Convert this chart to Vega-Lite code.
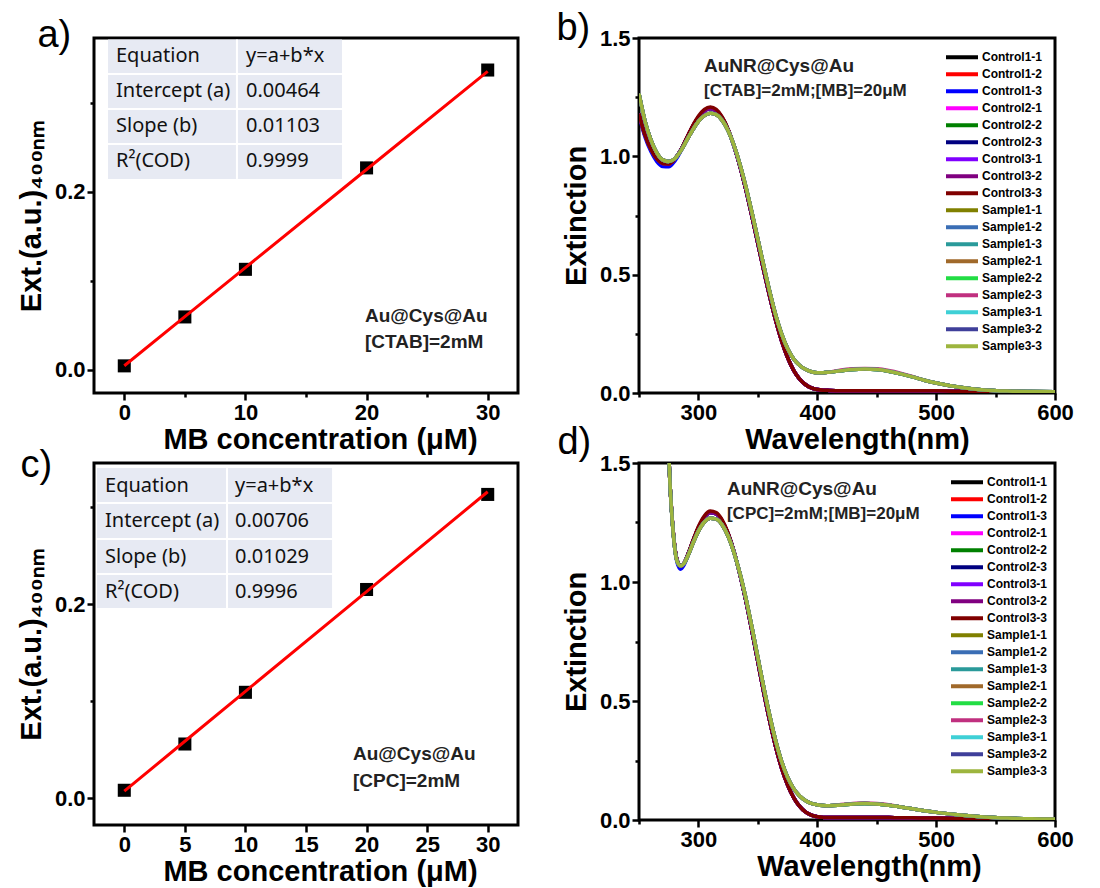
{
"$schema": "https://vega.github.io/schema/vega-lite/v6.json",
"background": "white",
"padding": {"left": 15, "top": 8, "right": 5, "bottom": 5},
"columns": 2,
"bounds": "flush",
"align": "each",
"spacing": {"row": 70, "column": 121},
"resolve": {"scale": {"color": "independent"}, "legend": {"color": "independent"}},
"config": {
  "view": {"stroke": "black", "strokeWidth": 3},
  "axis": {"domain": false, "grid": false, "tickColor": "black", "tickWidth": 2.5, "tickSize": 7, "labelPadding": 2, "labelFlush": false, "labelOverlap": false, "labelFont": "Liberation Sans", "labelFontSize": 22, "labelFontWeight": "bold", "labelColor": "black", "titleFont": "Liberation Sans", "titleFontSize": 29, "titleFontWeight": "bold", "titleColor": "black"},
  "axisY": {"titlePadding": 8},
  "axisX": {"titlePadding": 2},
  "title": {"anchor": "start", "frame": "bounds", "font": "Liberation Sans", "fontSize": 38, "fontWeight": "normal", "color": "black"}
},
"datasets": {
  "lin_a": [
    {"conc": 0, "ext": 0.0045, "fit": 0.00464},
    {"conc": 5, "ext": 0.0595, "fit": 0.05979},
    {"conc": 10, "ext": 0.113, "fit": 0.11494},
    {"conc": 20, "ext": 0.227, "fit": 0.22524},
    {"conc": 30, "ext": 0.337, "fit": 0.33554}
  ],
  "lin_c": [
    {"conc": 0, "ext": 0.008, "fit": 0.00706},
    {"conc": 5, "ext": 0.0557, "fit": 0.05851},
    {"conc": 10, "ext": 0.109, "fit": 0.10996},
    {"conc": 20, "ext": 0.215, "fit": 0.21286},
    {"conc": 30, "ext": 0.313, "fit": 0.31576}
  ],
  "spec_b": [
{"w":250,"C11":1.18,"C12":1.18,"C13":1.172,"C21":1.18,"C22":1.18,"C23":1.18,"C31":1.18,"C32":1.18,"C33":1.18,"S11":1.265,"S12":1.265,"S13":1.265,"S21":1.265,"S22":1.265,"S23":1.265,"S31":1.265,"S32":1.265,"S33":1.265},
{"w":255,"C11":1.09,"C12":1.09,"C13":1.082,"C21":1.09,"C22":1.09,"C23":1.09,"C31":1.09,"C32":1.09,"C33":1.09,"S11":1.15,"S12":1.15,"S13":1.15,"S21":1.15,"S22":1.15,"S23":1.15,"S31":1.15,"S32":1.15,"S33":1.15},
{"w":260,"C11":1.03,"C12":1.03,"C13":1.02,"C21":1.03,"C22":1.03,"C23":1.03,"C31":1.03,"C32":1.03,"C33":1.03,"S11":1.07,"S12":1.07,"S13":1.07,"S21":1.07,"S22":1.07,"S23":1.07,"S31":1.07,"S32":1.07,"S33":1.07},
{"w":265,"C11":0.99,"C12":0.99,"C13":0.978,"C21":0.99,"C22":0.99,"C23":0.99,"C31":0.99,"C32":0.99,"C33":0.99,"S11":1.015,"S12":1.015,"S13":1.015,"S21":1.015,"S22":1.015,"S23":1.015,"S31":1.015,"S32":1.015,"S33":1.015},
{"w":270,"C11":0.97,"C12":0.97,"C13":0.957,"C21":0.97,"C22":0.97,"C23":0.97,"C31":0.97,"C32":0.97,"C33":0.97,"S11":0.985,"S12":0.985,"S13":0.985,"S21":0.985,"S22":0.985,"S23":0.985,"S31":0.985,"S32":0.985,"S33":0.985},
{"w":275,"C11":0.968,"C12":0.968,"C13":0.956,"C21":0.968,"C22":0.968,"C23":0.968,"C31":0.968,"C32":0.968,"C33":0.968,"S11":0.978,"S12":0.978,"S13":0.978,"S21":0.978,"S22":0.978,"S23":0.978,"S31":0.978,"S32":0.978,"S33":0.978},
{"w":280,"C11":0.988,"C12":0.988,"C13":0.979,"C21":0.988,"C22":0.988,"C23":0.988,"C31":0.988,"C32":0.988,"C33":0.988,"S11":0.99,"S12":0.99,"S13":0.99,"S21":0.99,"S22":0.99,"S23":0.99,"S31":0.99,"S32":0.99,"S33":0.99},
{"w":285,"C11":1.025,"C12":1.025,"C13":1.02,"C21":1.025,"C22":1.025,"C23":1.025,"C31":1.025,"C32":1.025,"C33":1.025,"S11":1.022,"S12":1.022,"S13":1.022,"S21":1.022,"S22":1.022,"S23":1.022,"S31":1.022,"S32":1.022,"S33":1.022},
{"w":290,"C11":1.075,"C12":1.075,"C13":1.075,"C21":1.075,"C22":1.075,"C23":1.075,"C31":1.075,"C32":1.075,"C33":1.077,"S11":1.066,"S12":1.066,"S13":1.066,"S21":1.066,"S22":1.066,"S23":1.066,"S31":1.066,"S32":1.066,"S33":1.066},
{"w":295,"C11":1.125,"C12":1.125,"C13":1.125,"C21":1.125,"C22":1.125,"C23":1.125,"C31":1.125,"C32":1.125,"C33":1.128,"S11":1.11,"S12":1.11,"S13":1.11,"S21":1.11,"S22":1.11,"S23":1.11,"S31":1.11,"S32":1.11,"S33":1.11},
{"w":300,"C11":1.165,"C12":1.165,"C13":1.165,"C21":1.165,"C22":1.165,"C23":1.165,"C31":1.165,"C32":1.165,"C33":1.17,"S11":1.148,"S12":1.148,"S13":1.148,"S21":1.148,"S22":1.148,"S23":1.148,"S31":1.148,"S32":1.148,"S33":1.148},
{"w":305,"C11":1.192,"C12":1.192,"C13":1.192,"C21":1.192,"C22":1.192,"C23":1.192,"C31":1.192,"C32":1.192,"C33":1.198,"S11":1.172,"S12":1.172,"S13":1.172,"S21":1.172,"S22":1.172,"S23":1.172,"S31":1.172,"S32":1.172,"S33":1.172},
{"w":310,"C11":1.202,"C12":1.202,"C13":1.202,"C21":1.202,"C22":1.202,"C23":1.202,"C31":1.202,"C32":1.202,"C33":1.208,"S11":1.182,"S12":1.182,"S13":1.182,"S21":1.182,"S22":1.182,"S23":1.182,"S31":1.182,"S32":1.182,"S33":1.182},
{"w":315,"C11":1.192,"C12":1.192,"C13":1.192,"C21":1.192,"C22":1.192,"C23":1.192,"C31":1.192,"C32":1.192,"C33":1.198,"S11":1.176,"S12":1.176,"S13":1.176,"S21":1.176,"S22":1.176,"S23":1.176,"S31":1.176,"S32":1.176,"S33":1.176},
{"w":320,"C11":1.162,"C12":1.162,"C13":1.162,"C21":1.162,"C22":1.162,"C23":1.162,"C31":1.162,"C32":1.162,"C33":1.167,"S11":1.152,"S12":1.152,"S13":1.152,"S21":1.152,"S22":1.152,"S23":1.152,"S31":1.152,"S32":1.152,"S33":1.152},
{"w":325,"C11":1.112,"C12":1.112,"C13":1.112,"C21":1.112,"C22":1.112,"C23":1.112,"C31":1.112,"C32":1.112,"C33":1.115,"S11":1.108,"S12":1.108,"S13":1.108,"S21":1.108,"S22":1.108,"S23":1.108,"S31":1.108,"S32":1.108,"S33":1.108},
{"w":330,"C11":1.042,"C12":1.042,"C13":1.042,"C21":1.042,"C22":1.042,"C23":1.042,"C31":1.042,"C32":1.042,"C33":1.044,"S11":1.045,"S12":1.045,"S13":1.045,"S21":1.045,"S22":1.045,"S23":1.045,"S31":1.045,"S32":1.045,"S33":1.045},
{"w":335,"C11":0.957,"C12":0.957,"C13":0.957,"C21":0.957,"C22":0.957,"C23":0.957,"C31":0.957,"C32":0.957,"C33":0.957,"S11":0.965,"S12":0.965,"S13":0.965,"S21":0.965,"S22":0.965,"S23":0.965,"S31":0.965,"S32":0.965,"S33":0.965},
{"w":340,"C11":0.857,"C12":0.857,"C13":0.857,"C21":0.857,"C22":0.857,"C23":0.857,"C31":0.857,"C32":0.857,"C33":0.857,"S11":0.87,"S12":0.87,"S13":0.87,"S21":0.87,"S22":0.87,"S23":0.87,"S31":0.87,"S32":0.87,"S33":0.87},
{"w":345,"C11":0.747,"C12":0.747,"C13":0.747,"C21":0.747,"C22":0.747,"C23":0.747,"C31":0.747,"C32":0.747,"C33":0.747,"S11":0.763,"S12":0.763,"S13":0.763,"S21":0.763,"S22":0.763,"S23":0.763,"S31":0.763,"S32":0.763,"S33":0.763},
{"w":350,"C11":0.632,"C12":0.632,"C13":0.632,"C21":0.632,"C22":0.632,"C23":0.632,"C31":0.632,"C32":0.632,"C33":0.632,"S11":0.65,"S12":0.65,"S13":0.65,"S21":0.65,"S22":0.65,"S23":0.65,"S31":0.65,"S32":0.65,"S33":0.65},
{"w":355,"C11":0.517,"C12":0.517,"C13":0.517,"C21":0.517,"C22":0.517,"C23":0.517,"C31":0.517,"C32":0.517,"C33":0.517,"S11":0.537,"S12":0.537,"S13":0.537,"S21":0.537,"S22":0.537,"S23":0.537,"S31":0.537,"S32":0.537,"S33":0.537},
{"w":360,"C11":0.407,"C12":0.407,"C13":0.407,"C21":0.407,"C22":0.407,"C23":0.407,"C31":0.407,"C32":0.407,"C33":0.407,"S11":0.428,"S12":0.428,"S13":0.428,"S21":0.428,"S22":0.428,"S23":0.428,"S31":0.428,"S32":0.428,"S33":0.428},
{"w":365,"C11":0.307,"C12":0.307,"C13":0.307,"C21":0.307,"C22":0.307,"C23":0.307,"C31":0.307,"C32":0.307,"C33":0.307,"S11":0.33,"S12":0.33,"S13":0.33,"S21":0.33,"S22":0.33,"S23":0.33,"S31":0.33,"S32":0.33,"S33":0.33},
{"w":370,"C11":0.22,"C12":0.22,"C13":0.22,"C21":0.22,"C22":0.22,"C23":0.22,"C31":0.22,"C32":0.22,"C33":0.22,"S11":0.25,"S12":0.25,"S13":0.25,"S21":0.25,"S22":0.25,"S23":0.25,"S31":0.25,"S32":0.25,"S33":0.25},
{"w":375,"C11":0.15,"C12":0.15,"C13":0.15,"C21":0.15,"C22":0.15,"C23":0.15,"C31":0.15,"C32":0.15,"C33":0.15,"S11":0.188,"S12":0.188,"S13":0.188,"S21":0.188,"S22":0.188,"S23":0.188,"S31":0.188,"S32":0.188,"S33":0.188},
{"w":380,"C11":0.097,"C12":0.097,"C13":0.097,"C21":0.097,"C22":0.097,"C23":0.097,"C31":0.097,"C32":0.097,"C33":0.097,"S11":0.145,"S12":0.145,"S13":0.145,"S21":0.145,"S22":0.145,"S23":0.145,"S31":0.145,"S32":0.145,"S33":0.145},
{"w":385,"C11":0.06,"C12":0.06,"C13":0.06,"C21":0.06,"C22":0.06,"C23":0.06,"C31":0.06,"C32":0.06,"C33":0.06,"S11":0.117,"S12":0.117,"S13":0.117,"S21":0.117,"S22":0.117,"S23":0.117,"S31":0.117,"S32":0.117,"S33":0.117},
{"w":390,"C11":0.036,"C12":0.036,"C13":0.036,"C21":0.036,"C22":0.036,"C23":0.036,"C31":0.036,"C32":0.036,"C33":0.036,"S11":0.1,"S12":0.1,"S13":0.1,"S21":0.1,"S22":0.1,"S23":0.1,"S31":0.1,"S32":0.1,"S33":0.1},
{"w":395,"C11":0.022,"C12":0.022,"C13":0.022,"C21":0.022,"C22":0.022,"C23":0.022,"C31":0.022,"C32":0.022,"C33":0.022,"S11":0.09,"S12":0.09,"S13":0.09,"S21":0.09,"S22":0.09,"S23":0.09,"S31":0.09,"S32":0.09,"S33":0.09},
{"w":400,"C11":0.015,"C12":0.015,"C13":0.015,"C21":0.015,"C22":0.015,"C23":0.015,"C31":0.015,"C32":0.015,"C33":0.015,"S11":0.086,"S12":0.086,"S13":0.086,"S21":0.086,"S22":0.086,"S23":0.086,"S31":0.086,"S32":0.086,"S33":0.086},
{"w":405,"C11":0.012,"C12":0.012,"C13":0.012,"C21":0.012,"C22":0.012,"C23":0.012,"C31":0.012,"C32":0.012,"C33":0.012,"S11":0.086,"S12":0.086,"S13":0.086,"S21":0.086,"S22":0.086,"S23":0.086,"S31":0.086,"S32":0.086,"S33":0.086},
{"w":410,"C11":0.011,"C12":0.011,"C13":0.011,"C21":0.011,"C22":0.011,"C23":0.011,"C31":0.011,"C32":0.011,"C33":0.011,"S11":0.088,"S12":0.088,"S13":0.088,"S21":0.088,"S22":0.088,"S23":0.088,"S31":0.088,"S32":0.088,"S33":0.088},
{"w":420,"C11":0.01,"C12":0.01,"C13":0.01,"C21":0.01,"C22":0.01,"C23":0.01,"C31":0.01,"C32":0.01,"C33":0.01,"S11":0.094,"S12":0.094,"S13":0.094,"S21":0.094,"S22":0.094,"S23":0.097,"S31":0.094,"S32":0.094,"S33":0.094},
{"w":430,"C11":0.01,"C12":0.01,"C13":0.01,"C21":0.01,"C22":0.01,"C23":0.01,"C31":0.01,"C32":0.01,"C33":0.01,"S11":0.099,"S12":0.099,"S13":0.099,"S21":0.099,"S22":0.099,"S23":0.102,"S31":0.099,"S32":0.099,"S33":0.099},
{"w":440,"C11":0.01,"C12":0.01,"C13":0.01,"C21":0.01,"C22":0.01,"C23":0.01,"C31":0.01,"C32":0.01,"C33":0.01,"S11":0.101,"S12":0.101,"S13":0.101,"S21":0.101,"S22":0.101,"S23":0.104,"S31":0.101,"S32":0.101,"S33":0.101},
{"w":450,"C11":0.01,"C12":0.01,"C13":0.01,"C21":0.01,"C22":0.01,"C23":0.01,"C31":0.01,"C32":0.01,"C33":0.01,"S11":0.099,"S12":0.099,"S13":0.099,"S21":0.099,"S22":0.099,"S23":0.102,"S31":0.099,"S32":0.099,"S33":0.099},
{"w":460,"C11":0.01,"C12":0.01,"C13":0.01,"C21":0.01,"C22":0.01,"C23":0.01,"C31":0.01,"C32":0.01,"C33":0.01,"S11":0.092,"S12":0.092,"S13":0.092,"S21":0.092,"S22":0.092,"S23":0.095,"S31":0.092,"S32":0.092,"S33":0.092},
{"w":470,"C11":0.01,"C12":0.01,"C13":0.01,"C21":0.01,"C22":0.01,"C23":0.01,"C31":0.01,"C32":0.01,"C33":0.01,"S11":0.081,"S12":0.081,"S13":0.081,"S21":0.081,"S22":0.081,"S23":0.084,"S31":0.081,"S32":0.081,"S33":0.081},
{"w":480,"C11":0.01,"C12":0.01,"C13":0.01,"C21":0.01,"C22":0.01,"C23":0.01,"C31":0.01,"C32":0.01,"C33":0.01,"S11":0.068,"S12":0.068,"S13":0.068,"S21":0.068,"S22":0.068,"S23":0.07,"S31":0.068,"S32":0.068,"S33":0.068},
{"w":490,"C11":0.009,"C12":0.009,"C13":0.009,"C21":0.009,"C22":0.009,"C23":0.009,"C31":0.009,"C32":0.009,"C33":0.009,"S11":0.054,"S12":0.054,"S13":0.054,"S21":0.054,"S22":0.054,"S23":0.054,"S31":0.054,"S32":0.054,"S33":0.054},
{"w":500,"C11":0.009,"C12":0.009,"C13":0.009,"C21":0.009,"C22":0.009,"C23":0.009,"C31":0.009,"C32":0.009,"C33":0.009,"S11":0.042,"S12":0.042,"S13":0.042,"S21":0.042,"S22":0.042,"S23":0.042,"S31":0.042,"S32":0.042,"S33":0.042},
{"w":520,"C11":0.007,"C12":0.007,"C13":0.007,"C21":0.007,"C22":0.007,"C23":0.007,"C31":0.007,"C32":0.007,"C33":0.007,"S11":0.024,"S12":0.024,"S13":0.024,"S21":0.024,"S22":0.024,"S23":0.024,"S31":0.024,"S32":0.024,"S33":0.024},
{"w":540,"C11":0.005,"C12":0.005,"C13":0.005,"C21":0.005,"C22":0.005,"C23":0.005,"C31":0.005,"C32":0.005,"C33":0.005,"S11":0.013,"S12":0.013,"S13":0.013,"S21":0.013,"S22":0.013,"S23":0.013,"S31":0.013,"S32":0.013,"S33":0.013},
{"w":560,"C11":0.004,"C12":0.004,"C13":0.004,"C21":0.004,"C22":0.004,"C23":0.004,"C31":0.004,"C32":0.004,"C33":0.004,"S11":0.008,"S12":0.008,"S13":0.008,"S21":0.008,"S22":0.008,"S23":0.008,"S31":0.008,"S32":0.008,"S33":0.008},
{"w":580,"C11":0.003,"C12":0.003,"C13":0.003,"C21":0.003,"C22":0.003,"C23":0.003,"C31":0.003,"C32":0.003,"C33":0.003,"S11":0.006,"S12":0.006,"S13":0.006,"S21":0.006,"S22":0.006,"S23":0.006,"S31":0.006,"S32":0.006,"S33":0.006},
{"w":600,"C11":0.003,"C12":0.003,"C13":0.003,"C21":0.003,"C22":0.003,"C23":0.003,"C31":0.003,"C32":0.003,"C33":0.003,"S11":0.005,"S12":0.005,"S13":0.005,"S21":0.005,"S22":0.005,"S23":0.005,"S31":0.005,"S32":0.005,"S33":0.005}
  ],
  "spec_d": [
{"w":273,"C11":1.8,"C12":1.8,"C13":1.8,"C21":1.8,"C22":1.8,"C23":1.8,"C31":1.8,"C32":1.8,"C33":1.8,"S11":1.8,"S12":1.8,"S13":1.8,"S21":1.8,"S22":1.8,"S23":1.8,"S31":1.8,"S32":1.8,"S33":1.8},
{"w":276,"C11":1.42,"C12":1.42,"C13":1.42,"C21":1.42,"C22":1.42,"C23":1.42,"C31":1.42,"C32":1.42,"C33":1.42,"S11":1.42,"S12":1.42,"S13":1.42,"S21":1.42,"S22":1.42,"S23":1.42,"S31":1.42,"S32":1.42,"S33":1.42},
{"w":279,"C11":1.2,"C12":1.2,"C13":1.195,"C21":1.2,"C22":1.2,"C23":1.2,"C31":1.2,"C32":1.2,"C33":1.2,"S11":1.195,"S12":1.195,"S13":1.195,"S21":1.195,"S22":1.195,"S23":1.195,"S31":1.195,"S32":1.195,"S33":1.195},
{"w":282,"C11":1.092,"C12":1.092,"C13":1.082,"C21":1.092,"C22":1.092,"C23":1.092,"C31":1.092,"C32":1.092,"C33":1.092,"S11":1.088,"S12":1.088,"S13":1.088,"S21":1.088,"S22":1.088,"S23":1.088,"S31":1.088,"S32":1.088,"S33":1.088},
{"w":285,"C11":1.066,"C12":1.066,"C13":1.054,"C21":1.066,"C22":1.066,"C23":1.066,"C31":1.066,"C32":1.066,"C33":1.066,"S11":1.068,"S12":1.068,"S13":1.068,"S21":1.068,"S22":1.068,"S23":1.068,"S31":1.068,"S32":1.068,"S33":1.068},
{"w":288,"C11":1.08,"C12":1.08,"C13":1.072,"C21":1.08,"C22":1.08,"C23":1.08,"C31":1.08,"C32":1.08,"C33":1.08,"S11":1.079,"S12":1.079,"S13":1.079,"S21":1.079,"S22":1.079,"S23":1.079,"S31":1.079,"S32":1.079,"S33":1.079},
{"w":292,"C11":1.126,"C12":1.126,"C13":1.122,"C21":1.126,"C22":1.126,"C23":1.126,"C31":1.126,"C32":1.126,"C33":1.128,"S11":1.12,"S12":1.12,"S13":1.12,"S21":1.12,"S22":1.12,"S23":1.12,"S31":1.12,"S32":1.12,"S33":1.12},
{"w":296,"C11":1.18,"C12":1.18,"C13":1.18,"C21":1.18,"C22":1.18,"C23":1.18,"C31":1.18,"C32":1.18,"C33":1.183,"S11":1.17,"S12":1.17,"S13":1.17,"S21":1.17,"S22":1.17,"S23":1.17,"S31":1.17,"S32":1.17,"S33":1.17},
{"w":300,"C11":1.228,"C12":1.228,"C13":1.228,"C21":1.228,"C22":1.228,"C23":1.228,"C31":1.228,"C32":1.228,"C33":1.233,"S11":1.214,"S12":1.214,"S13":1.214,"S21":1.214,"S22":1.214,"S23":1.214,"S31":1.214,"S32":1.214,"S33":1.214},
{"w":305,"C11":1.272,"C12":1.272,"C13":1.272,"C21":1.272,"C22":1.272,"C23":1.272,"C31":1.272,"C32":1.272,"C33":1.278,"S11":1.252,"S12":1.252,"S13":1.252,"S21":1.252,"S22":1.252,"S23":1.252,"S31":1.252,"S32":1.252,"S33":1.252},
{"w":310,"C11":1.292,"C12":1.292,"C13":1.292,"C21":1.292,"C22":1.292,"C23":1.292,"C31":1.292,"C32":1.292,"C33":1.298,"S11":1.268,"S12":1.268,"S13":1.268,"S21":1.268,"S22":1.268,"S23":1.268,"S31":1.268,"S32":1.268,"S33":1.268},
{"w":315,"C11":1.286,"C12":1.286,"C13":1.286,"C21":1.286,"C22":1.286,"C23":1.286,"C31":1.286,"C32":1.286,"C33":1.292,"S11":1.264,"S12":1.264,"S13":1.264,"S21":1.264,"S22":1.264,"S23":1.264,"S31":1.264,"S32":1.264,"S33":1.264},
{"w":320,"C11":1.256,"C12":1.256,"C13":1.256,"C21":1.256,"C22":1.256,"C23":1.256,"C31":1.256,"C32":1.256,"C33":1.261,"S11":1.24,"S12":1.24,"S13":1.24,"S21":1.24,"S22":1.24,"S23":1.24,"S31":1.24,"S32":1.24,"S33":1.24},
{"w":325,"C11":1.202,"C12":1.202,"C13":1.202,"C21":1.202,"C22":1.202,"C23":1.202,"C31":1.202,"C32":1.202,"C33":1.205,"S11":1.192,"S12":1.192,"S13":1.192,"S21":1.192,"S22":1.192,"S23":1.192,"S31":1.192,"S32":1.192,"S33":1.192},
{"w":330,"C11":1.126,"C12":1.126,"C13":1.126,"C21":1.126,"C22":1.126,"C23":1.126,"C31":1.126,"C32":1.126,"C33":1.126,"S11":1.122,"S12":1.122,"S13":1.122,"S21":1.122,"S22":1.122,"S23":1.122,"S31":1.122,"S32":1.122,"S33":1.122},
{"w":335,"C11":1.03,"C12":1.03,"C13":1.03,"C21":1.03,"C22":1.03,"C23":1.03,"C31":1.03,"C32":1.03,"C33":1.03,"S11":1.035,"S12":1.035,"S13":1.035,"S21":1.035,"S22":1.035,"S23":1.035,"S31":1.035,"S32":1.035,"S33":1.035},
{"w":340,"C11":0.92,"C12":0.92,"C13":0.92,"C21":0.92,"C22":0.92,"C23":0.92,"C31":0.92,"C32":0.92,"C33":0.92,"S11":0.93,"S12":0.93,"S13":0.93,"S21":0.93,"S22":0.93,"S23":0.93,"S31":0.93,"S32":0.93,"S33":0.93},
{"w":345,"C11":0.795,"C12":0.795,"C13":0.795,"C21":0.795,"C22":0.795,"C23":0.795,"C31":0.795,"C32":0.795,"C33":0.795,"S11":0.81,"S12":0.81,"S13":0.81,"S21":0.81,"S22":0.81,"S23":0.81,"S31":0.81,"S32":0.81,"S33":0.81},
{"w":350,"C11":0.665,"C12":0.665,"C13":0.665,"C21":0.665,"C22":0.665,"C23":0.665,"C31":0.665,"C32":0.665,"C33":0.665,"S11":0.683,"S12":0.683,"S13":0.683,"S21":0.683,"S22":0.683,"S23":0.683,"S31":0.683,"S32":0.683,"S33":0.683},
{"w":355,"C11":0.535,"C12":0.535,"C13":0.535,"C21":0.535,"C22":0.535,"C23":0.535,"C31":0.535,"C32":0.535,"C33":0.535,"S11":0.556,"S12":0.556,"S13":0.556,"S21":0.556,"S22":0.556,"S23":0.556,"S31":0.556,"S32":0.556,"S33":0.556},
{"w":360,"C11":0.415,"C12":0.415,"C13":0.415,"C21":0.415,"C22":0.415,"C23":0.415,"C31":0.415,"C32":0.415,"C33":0.415,"S11":0.438,"S12":0.438,"S13":0.438,"S21":0.438,"S22":0.438,"S23":0.438,"S31":0.438,"S32":0.438,"S33":0.438},
{"w":365,"C11":0.308,"C12":0.308,"C13":0.308,"C21":0.308,"C22":0.308,"C23":0.308,"C31":0.308,"C32":0.308,"C33":0.308,"S11":0.333,"S12":0.333,"S13":0.333,"S21":0.333,"S22":0.333,"S23":0.333,"S31":0.333,"S32":0.333,"S33":0.333},
{"w":370,"C11":0.218,"C12":0.218,"C13":0.218,"C21":0.218,"C22":0.218,"C23":0.218,"C31":0.218,"C32":0.218,"C33":0.218,"S11":0.246,"S12":0.246,"S13":0.246,"S21":0.246,"S22":0.246,"S23":0.246,"S31":0.246,"S32":0.246,"S33":0.246},
{"w":375,"C11":0.148,"C12":0.148,"C13":0.148,"C21":0.148,"C22":0.148,"C23":0.148,"C31":0.148,"C32":0.148,"C33":0.148,"S11":0.18,"S12":0.18,"S13":0.18,"S21":0.18,"S22":0.18,"S23":0.18,"S31":0.18,"S32":0.18,"S33":0.18},
{"w":380,"C11":0.095,"C12":0.095,"C13":0.095,"C21":0.095,"C22":0.095,"C23":0.095,"C31":0.095,"C32":0.095,"C33":0.095,"S11":0.133,"S12":0.133,"S13":0.133,"S21":0.133,"S22":0.133,"S23":0.133,"S31":0.133,"S32":0.133,"S33":0.133},
{"w":385,"C11":0.058,"C12":0.058,"C13":0.058,"C21":0.058,"C22":0.058,"C23":0.058,"C31":0.058,"C32":0.058,"C33":0.058,"S11":0.102,"S12":0.102,"S13":0.102,"S21":0.102,"S22":0.102,"S23":0.102,"S31":0.102,"S32":0.102,"S33":0.102},
{"w":390,"C11":0.034,"C12":0.034,"C13":0.034,"C21":0.034,"C22":0.034,"C23":0.034,"C31":0.034,"C32":0.034,"C33":0.034,"S11":0.082,"S12":0.082,"S13":0.082,"S21":0.082,"S22":0.082,"S23":0.082,"S31":0.082,"S32":0.082,"S33":0.082},
{"w":395,"C11":0.021,"C12":0.021,"C13":0.021,"C21":0.021,"C22":0.021,"C23":0.021,"C31":0.021,"C32":0.021,"C33":0.021,"S11":0.07,"S12":0.07,"S13":0.07,"S21":0.07,"S22":0.07,"S23":0.07,"S31":0.07,"S32":0.07,"S33":0.07},
{"w":400,"C11":0.014,"C12":0.014,"C13":0.014,"C21":0.014,"C22":0.014,"C23":0.014,"C31":0.014,"C32":0.014,"C33":0.014,"S11":0.064,"S12":0.064,"S13":0.064,"S21":0.064,"S22":0.064,"S23":0.064,"S31":0.064,"S32":0.064,"S33":0.064},
{"w":405,"C11":0.011,"C12":0.011,"C13":0.011,"C21":0.011,"C22":0.011,"C23":0.011,"C31":0.011,"C32":0.011,"C33":0.011,"S11":0.061,"S12":0.061,"S13":0.061,"S21":0.061,"S22":0.061,"S23":0.061,"S31":0.061,"S32":0.061,"S33":0.061},
{"w":410,"C11":0.01,"C12":0.01,"C13":0.01,"C21":0.01,"C22":0.01,"C23":0.01,"C31":0.01,"C32":0.01,"C33":0.01,"S11":0.06,"S12":0.06,"S13":0.06,"S21":0.06,"S22":0.06,"S23":0.06,"S31":0.06,"S32":0.06,"S33":0.06},
{"w":420,"C11":0.01,"C12":0.01,"C13":0.01,"C21":0.01,"C22":0.01,"C23":0.01,"C31":0.01,"C32":0.01,"C33":0.01,"S11":0.063,"S12":0.063,"S13":0.063,"S21":0.063,"S22":0.063,"S23":0.065,"S31":0.063,"S32":0.063,"S33":0.063},
{"w":430,"C11":0.01,"C12":0.01,"C13":0.01,"C21":0.01,"C22":0.01,"C23":0.01,"C31":0.01,"C32":0.01,"C33":0.01,"S11":0.067,"S12":0.067,"S13":0.067,"S21":0.067,"S22":0.067,"S23":0.069,"S31":0.067,"S32":0.067,"S33":0.067},
{"w":440,"C11":0.01,"C12":0.01,"C13":0.01,"C21":0.01,"C22":0.01,"C23":0.01,"C31":0.01,"C32":0.01,"C33":0.01,"S11":0.069,"S12":0.069,"S13":0.069,"S21":0.069,"S22":0.069,"S23":0.071,"S31":0.069,"S32":0.069,"S33":0.069},
{"w":450,"C11":0.01,"C12":0.01,"C13":0.01,"C21":0.01,"C22":0.01,"C23":0.01,"C31":0.01,"C32":0.01,"C33":0.01,"S11":0.067,"S12":0.067,"S13":0.067,"S21":0.067,"S22":0.067,"S23":0.069,"S31":0.067,"S32":0.067,"S33":0.067},
{"w":460,"C11":0.01,"C12":0.01,"C13":0.01,"C21":0.01,"C22":0.01,"C23":0.01,"C31":0.01,"C32":0.01,"C33":0.01,"S11":0.062,"S12":0.062,"S13":0.062,"S21":0.062,"S22":0.062,"S23":0.064,"S31":0.062,"S32":0.062,"S33":0.062},
{"w":470,"C11":0.009,"C12":0.009,"C13":0.009,"C21":0.009,"C22":0.009,"C23":0.009,"C31":0.009,"C32":0.009,"C33":0.009,"S11":0.055,"S12":0.055,"S13":0.055,"S21":0.055,"S22":0.055,"S23":0.055,"S31":0.055,"S32":0.055,"S33":0.055},
{"w":480,"C11":0.009,"C12":0.009,"C13":0.009,"C21":0.009,"C22":0.009,"C23":0.009,"C31":0.009,"C32":0.009,"C33":0.009,"S11":0.047,"S12":0.047,"S13":0.047,"S21":0.047,"S22":0.047,"S23":0.047,"S31":0.047,"S32":0.047,"S33":0.047},
{"w":490,"C11":0.008,"C12":0.008,"C13":0.008,"C21":0.008,"C22":0.008,"C23":0.008,"C31":0.008,"C32":0.008,"C33":0.008,"S11":0.039,"S12":0.039,"S13":0.039,"S21":0.039,"S22":0.039,"S23":0.039,"S31":0.039,"S32":0.039,"S33":0.039},
{"w":500,"C11":0.008,"C12":0.008,"C13":0.008,"C21":0.008,"C22":0.008,"C23":0.008,"C31":0.008,"C32":0.008,"C33":0.008,"S11":0.032,"S12":0.032,"S13":0.032,"S21":0.032,"S22":0.032,"S23":0.032,"S31":0.032,"S32":0.032,"S33":0.032},
{"w":520,"C11":0.006,"C12":0.006,"C13":0.006,"C21":0.006,"C22":0.006,"C23":0.006,"C31":0.006,"C32":0.006,"C33":0.006,"S11":0.021,"S12":0.021,"S13":0.021,"S21":0.021,"S22":0.021,"S23":0.021,"S31":0.021,"S32":0.021,"S33":0.021},
{"w":540,"C11":0.004,"C12":0.004,"C13":0.004,"C21":0.004,"C22":0.004,"C23":0.004,"C31":0.004,"C32":0.004,"C33":0.004,"S11":0.013,"S12":0.013,"S13":0.013,"S21":0.013,"S22":0.013,"S23":0.013,"S31":0.013,"S32":0.013,"S33":0.013},
{"w":560,"C11":0.003,"C12":0.003,"C13":0.003,"C21":0.003,"C22":0.003,"C23":0.003,"C31":0.003,"C32":0.003,"C33":0.003,"S11":0.008,"S12":0.008,"S13":0.008,"S21":0.008,"S22":0.008,"S23":0.008,"S31":0.008,"S32":0.008,"S33":0.008},
{"w":580,"C11":0.002,"C12":0.002,"C13":0.002,"C21":0.002,"C22":0.002,"C23":0.002,"C31":0.002,"C32":0.002,"C33":0.002,"S11":0.005,"S12":0.005,"S13":0.005,"S21":0.005,"S22":0.005,"S23":0.005,"S31":0.005,"S32":0.005,"S33":0.005},
{"w":600,"C11":0.002,"C12":0.002,"C13":0.002,"C21":0.002,"C22":0.002,"C23":0.002,"C31":0.002,"C32":0.002,"C33":0.002,"S11":0.004,"S12":0.004,"S13":0.004,"S21":0.004,"S22":0.004,"S23":0.004,"S31":0.004,"S32":0.004,"S33":0.004}
  ]
},
"concat": [
{
  "width": 424, "height": 355,
  "title": {"text": "a)", "dx": 20, "dy": 21},
  "layer": [
    {"data": {"values": [{}]}, "mark": {"type": "rect", "fill": "#e7eaf3"},
     "encoding": {"x": {"datum": -1.344, "type": "quantitative"}, "x2": {"datum": 17.97}, "y": {"datum": 0.3713, "type": "quantitative"}, "y2": {"datum": 0.2146}}},
    {"data": {"values": [{}]}, "mark": {"type": "rule", "color": "white", "strokeWidth": 2},
     "encoding": {"x": {"datum": 9.3, "type": "quantitative"}, "y": {"datum": 0.3713, "type": "quantitative"}, "y2": {"datum": 0.2146}}},
    {"data": {"values": [{}]}, "mark": {"type": "rule", "color": "white", "strokeWidth": 2},
     "encoding": {"x": {"datum": -1.344, "type": "quantitative"}, "x2": {"datum": 17.97}, "y": {"datum": 0.3326, "type": "quantitative"}}},
    {"data": {"values": [{}]}, "mark": {"type": "rule", "color": "white", "strokeWidth": 2},
     "encoding": {"x": {"datum": -1.344, "type": "quantitative"}, "x2": {"datum": 17.97}, "y": {"datum": 0.2932, "type": "quantitative"}}},
    {"data": {"values": [{}]}, "mark": {"type": "rule", "color": "white", "strokeWidth": 2},
     "encoding": {"x": {"datum": -1.344, "type": "quantitative"}, "x2": {"datum": 17.97}, "y": {"datum": 0.2539, "type": "quantitative"}}},
    {"data": {"values": [{}]}, "mark": {"type": "text", "text": ["Equation", "Intercept (a)", "Slope (b)", "R²(COD)"], "align": "left", "baseline": "middle", "lineHeight": 35, "font": "Noto Sans", "fontSize": 20, "color": "#111111"},
     "encoding": {"x": {"datum": -0.684, "type": "quantitative"}, "y": {"datum": 0.3528, "type": "quantitative"}}},
    {"data": {"values": [{}]}, "mark": {"type": "text", "text": ["y=a+b*x", "0.00464", "0.01103", "0.9999"], "align": "left", "baseline": "middle", "lineHeight": 35, "font": "Noto Sans", "fontSize": 20, "color": "#111111"},
     "encoding": {"x": {"datum": 10.05, "type": "quantitative"}, "y": {"datum": 0.3528, "type": "quantitative"}}},
    {"data": {"values": [{}]}, "mark": {"type": "text", "text": ["Au@Cys@Au", "[CTAB]=2mM"], "align": "left", "baseline": "alphabetic", "lineHeight": 26, "font": "Liberation Sans", "fontSize": 19, "fontWeight": "bold", "color": "#222222"},
     "encoding": {"x": {"datum": 19.87, "type": "quantitative"}, "y": {"datum": 0.054, "type": "quantitative"}}},
    {"data": {"name": "lin_a"}, "mark": {"type": "square", "size": 170, "filled": true, "color": "black", "opacity": 1},
     "encoding": {
       "x": {"field": "conc", "type": "quantitative", "scale": {"domain": [-2.5, 32.5], "nice": false, "zero": false},
             "axis": {"title": "MB concentration (μM)", "values": [0, 5, 10, 15, 20, 25, 30], "format": "d", "labelExpr": "datum.value % 10 == 0 ? datum.label : ''", "tickSize": {"condition": {"test": "datum.value % 10 == 0", "value": 7}, "value": 4}, "titleX": 226}},
       "y": {"field": "ext", "type": "quantitative", "scale": {"domain": [-0.026, 0.373], "nice": false, "zero": false},
             "axis": {"title": "Ext.(a.u.)₄₀₀ₙₘ", "values": [0, 0.1, 0.2, 0.3], "format": ".1f", "labelExpr": "round(datum.value*10) % 2 == 0 ? datum.label : ''", "tickSize": {"condition": {"test": "round(datum.value*10) % 2 == 0", "value": 7}, "value": 4}}}
     }},
    {"data": {"name": "lin_a"}, "mark": {"type": "line", "color": "#ff0000", "strokeWidth": 3},
     "encoding": {"x": {"field": "conc", "type": "quantitative"}, "y": {"field": "fit", "type": "quantitative"}}}
  ]
},
{
  "width": 416, "height": 355,
  "title": {"text": "b)", "dx": -6, "dy": 25},
  "layer": [
    {"data": {"name": "spec_b"},
     "transform": [{"fold": ["C11","C12","C13","C21","C22","C23","C31","C32","C33","S11","S12","S13","S21","S22","S23","S31","S32","S33"], "as": ["series", "ext"]}],
     "mark": {"type": "line", "strokeWidth": 3.5, "interpolate": "monotone", "clip": true},
     "encoding": {
       "x": {"field": "w", "type": "quantitative", "scale": {"domain": [250, 600], "nice": false, "zero": false},
             "axis": {"title": "Wavelength(nm)", "values": [250, 300, 350, 400, 450, 500, 550, 600], "format": "d", "labelExpr": "datum.value % 100 == 0 ? datum.label : ''", "tickSize": {"condition": {"test": "datum.value % 100 == 0", "value": 7}, "value": 4}, "titleX": 218}},
       "y": {"field": "ext", "type": "quantitative", "scale": {"domain": [0, 1.5], "nice": false},
             "axis": {"title": "Extinction", "values": [0, 0.25, 0.5, 0.75, 1, 1.25, 1.5], "format": ".1f", "labelExpr": "round(datum.value*4) % 2 == 0 ? datum.label : ''", "tickSize": {"condition": {"test": "round(datum.value*4) % 2 == 0", "value": 7}, "value": 4}}},
       "color": {"field": "series", "type": "nominal",
                 "scale": {"domain": ["C11","C12","C13","C21","C22","C23","C31","C32","C33","S11","S12","S13","S21","S22","S23","S31","S32","S33"],
                           "range": ["#000000","#ff0000","#0000ff","#ff00ff","#008000","#000080","#8000ff","#800080","#800000","#808000","#3a6eb5","#2a9a9a","#a0692a","#22dd44","#c0307f","#3fd0d6","#3f3f9a","#9db53e"]},
                 "legend": {"orient": "none", "legendX": 305, "legendY": 11, "title": null, "padding": 0, "symbolType": "stroke", "symbolSize": 1024, "symbolStrokeWidth": 4, "clipHeight": 16.3, "rowPadding": -0.7, "labelOffset": 2, "labelFont": "Liberation Sans", "labelFontSize": 12, "labelFontWeight": "bold", "labelColor": "black",
                            "labelExpr": "(substring(datum.label,0,1) == 'C' ? 'Control' : 'Sample') + substring(datum.label,1,2) + '-' + substring(datum.label,2,3)"}}
     }},
    {"data": {"values": [{}]}, "mark": {"type": "text", "text": "AuNR@Cys@Au", "align": "left", "baseline": "alphabetic", "font": "Liberation Sans", "fontSize": 19, "fontWeight": "bold", "color": "#222222"},
     "encoding": {"x": {"datum": 304.7, "type": "quantitative"}, "y": {"datum": 1.3563, "type": "quantitative"}}},
    {"data": {"values": [{}]}, "mark": {"type": "text", "text": "[CTAB]=2mM;[MB]=20μM", "align": "left", "baseline": "alphabetic", "font": "Liberation Sans", "fontSize": 17, "fontWeight": "bold", "color": "#222222"},
     "encoding": {"x": {"datum": 304.7, "type": "quantitative"}, "y": {"datum": 1.2549, "type": "quantitative"}}}
  ]
},
{
  "width": 424, "height": 362,
  "title": {"text": "c)", "dx": 3, "dy": 26},
  "layer": [
    {"data": {"values": [{}]}, "mark": {"type": "rect", "fill": "#e7eaf3"},
     "encoding": {"x": {"datum": -2.25, "type": "quantitative"}, "x2": {"datum": 17.15}, "y": {"datum": 0.3402, "type": "quantitative"}, "y2": {"datum": 0.1959}}},
    {"data": {"values": [{}]}, "mark": {"type": "rule", "color": "white", "strokeWidth": 2},
     "encoding": {"x": {"datum": 8.48, "type": "quantitative"}, "y": {"datum": 0.3402, "type": "quantitative"}, "y2": {"datum": 0.1959}}},
    {"data": {"values": [{}]}, "mark": {"type": "rule", "color": "white", "strokeWidth": 2},
     "encoding": {"x": {"datum": -2.25, "type": "quantitative"}, "x2": {"datum": 17.15}, "y": {"datum": 0.3042, "type": "quantitative"}}},
    {"data": {"values": [{}]}, "mark": {"type": "rule", "color": "white", "strokeWidth": 2},
     "encoding": {"x": {"datum": -2.25, "type": "quantitative"}, "x2": {"datum": 17.15}, "y": {"datum": 0.267, "type": "quantitative"}}},
    {"data": {"values": [{}]}, "mark": {"type": "rule", "color": "white", "strokeWidth": 2},
     "encoding": {"x": {"datum": -2.25, "type": "quantitative"}, "x2": {"datum": 17.15}, "y": {"datum": 0.231, "type": "quantitative"}}},
    {"data": {"values": [{}]}, "mark": {"type": "text", "text": ["Equation", "Intercept (a)", "Slope (b)", "R²(COD)"], "align": "left", "baseline": "middle", "lineHeight": 35.5, "font": "Noto Sans", "fontSize": 20, "color": "#111111"},
     "encoding": {"x": {"datum": -1.59, "type": "quantitative"}, "y": {"datum": 0.3222, "type": "quantitative"}}},
    {"data": {"values": [{}]}, "mark": {"type": "text", "text": ["y=a+b*x", "0.00706", "0.01029", "0.9996"], "align": "left", "baseline": "middle", "lineHeight": 35.5, "font": "Noto Sans", "fontSize": 20, "color": "#111111"},
     "encoding": {"x": {"datum": 9.14, "type": "quantitative"}, "y": {"datum": 0.3222, "type": "quantitative"}}},
    {"data": {"values": [{}]}, "mark": {"type": "text", "text": ["Au@Cys@Au", "[CPC]=2mM"], "align": "left", "baseline": "alphabetic", "lineHeight": 27, "font": "Liberation Sans", "fontSize": 19, "fontWeight": "bold", "color": "#222222"},
     "encoding": {"x": {"datum": 18.88, "type": "quantitative"}, "y": {"datum": 0.0392, "type": "quantitative"}}},
    {"data": {"name": "lin_c"}, "mark": {"type": "square", "size": 170, "filled": true, "color": "black", "opacity": 1},
     "encoding": {
       "x": {"field": "conc", "type": "quantitative", "scale": {"domain": [-2.5, 32.5], "nice": false, "zero": false},
             "axis": {"title": "MB concentration (μM)", "values": [0, 2.5, 5, 7.5, 10, 12.5, 15, 17.5, 20, 22.5, 25, 27.5, 30], "format": "d", "labelExpr": "datum.value % 5 == 0 ? datum.label : ''", "tickSize": {"condition": {"test": "datum.value % 5 == 0", "value": 7}, "value": 4}, "titleX": 226}},
       "y": {"field": "ext", "type": "quantitative", "scale": {"domain": [-0.0278, 0.3454], "nice": false, "zero": false},
             "axis": {"title": "Ext.(a.u.)₄₀₀ₙₘ", "values": [0, 0.1, 0.2, 0.3], "format": ".1f", "labelExpr": "round(datum.value*10) % 2 == 0 ? datum.label : ''", "tickSize": {"condition": {"test": "round(datum.value*10) % 2 == 0", "value": 7}, "value": 4}}}
     }},
    {"data": {"name": "lin_c"}, "mark": {"type": "line", "color": "#ff0000", "strokeWidth": 3},
     "encoding": {"x": {"field": "conc", "type": "quantitative"}, "y": {"field": "fit", "type": "quantitative"}}}
  ]
},
{
  "width": 416, "height": 357,
  "title": {"text": "d)", "dx": -5, "dy": 14},
  "layer": [
    {"data": {"name": "spec_d"},
     "transform": [{"fold": ["C11","C12","C13","C21","C22","C23","C31","C32","C33","S11","S12","S13","S21","S22","S23","S31","S32","S33"], "as": ["series", "ext"]}],
     "mark": {"type": "line", "strokeWidth": 3.5, "interpolate": "monotone", "clip": true},
     "encoding": {
       "x": {"field": "w", "type": "quantitative", "scale": {"domain": [250, 600], "nice": false, "zero": false},
             "axis": {"title": "Wavelength(nm)", "values": [250, 300, 350, 400, 450, 500, 550, 600], "format": "d", "labelExpr": "datum.value % 100 == 0 ? datum.label : ''", "tickSize": {"condition": {"test": "datum.value % 100 == 0", "value": 7}, "value": 4}, "titleX": 230}},
       "y": {"field": "ext", "type": "quantitative", "scale": {"domain": [0, 1.5], "nice": false},
             "axis": {"title": "Extinction", "values": [0, 0.25, 0.5, 0.75, 1, 1.25, 1.5], "format": ".1f", "labelExpr": "round(datum.value*4) % 2 == 0 ? datum.label : ''", "tickSize": {"condition": {"test": "round(datum.value*4) % 2 == 0", "value": 7}, "value": 4}}},
       "color": {"field": "series", "type": "nominal",
                 "scale": {"domain": ["C11","C12","C13","C21","C22","C23","C31","C32","C33","S11","S12","S13","S21","S22","S23","S31","S32","S33"],
                           "range": ["#000000","#ff0000","#0000ff","#ff00ff","#008000","#000080","#8000ff","#800080","#800000","#808000","#3a6eb5","#2a9a9a","#a0692a","#22dd44","#c0307f","#3fd0d6","#3f3f9a","#9db53e"]},
                 "legend": {"orient": "none", "legendX": 310, "legendY": 11, "title": null, "padding": 0, "symbolType": "stroke", "symbolSize": 1024, "symbolStrokeWidth": 4, "clipHeight": 16.3, "rowPadding": -0.7, "labelOffset": 2, "labelFont": "Liberation Sans", "labelFontSize": 12, "labelFontWeight": "bold", "labelColor": "black",
                            "labelExpr": "(substring(datum.label,0,1) == 'C' ? 'Control' : 'Sample') + substring(datum.label,1,2) + '-' + substring(datum.label,2,3)"}}
     }},
    {"data": {"values": [{}]}, "mark": {"type": "text", "text": "AuNR@Cys@Au", "align": "left", "baseline": "alphabetic", "font": "Liberation Sans", "fontSize": 19, "fontWeight": "bold", "color": "#222222"},
     "encoding": {"x": {"datum": 324, "type": "quantitative"}, "y": {"datum": 1.3655, "type": "quantitative"}}},
    {"data": {"values": [{}]}, "mark": {"type": "text", "text": "[CPC]=2mM;[MB]=20μM", "align": "left", "baseline": "alphabetic", "font": "Liberation Sans", "fontSize": 17, "fontWeight": "bold", "color": "#222222"},
     "encoding": {"x": {"datum": 324, "type": "quantitative"}, "y": {"datum": 1.2647, "type": "quantitative"}}}
  ]
}
]
}
